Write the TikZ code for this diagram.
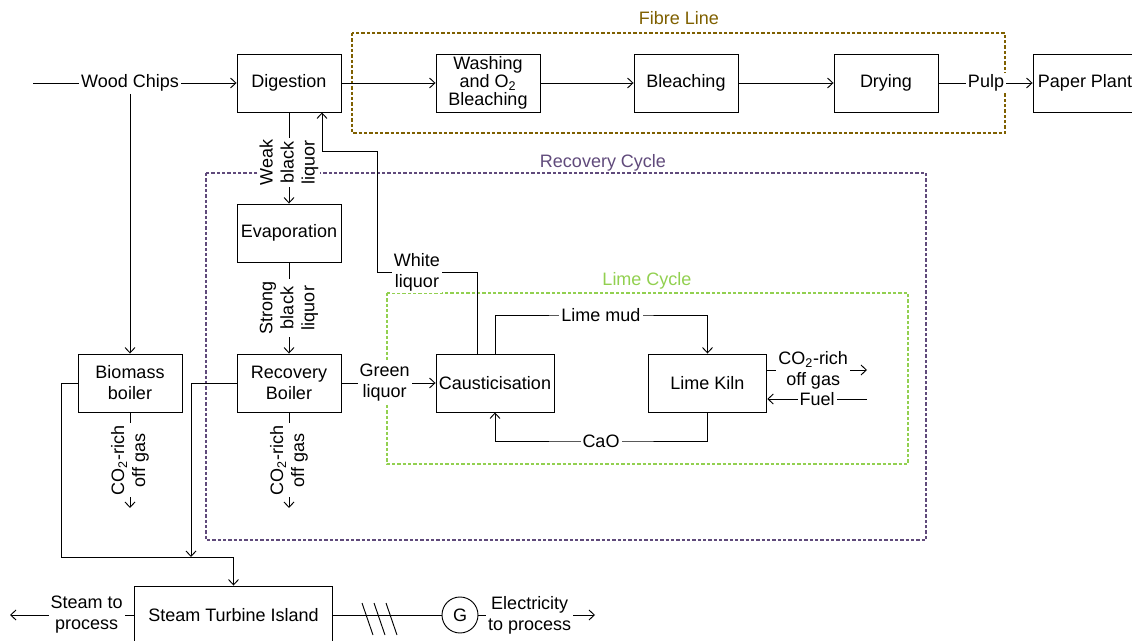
\documentclass[tikz,border=0pt]{standalone}
\usepackage{fontspec}
\setmainfont{Liberation Sans}
\usetikzlibrary{arrows.meta}
\definecolor{fibre}{HTML}{7F6000}
\definecolor{recov}{HTML}{604A7B}
\definecolor{lime}{HTML}{92D050}

\begin{document}
\begin{tikzpicture}[x=0.75pt, y=-0.75pt, line width=0.7pt,
  unit/.style={draw, fill=white, minimum width=78pt, minimum height=43.5pt,
    inner sep=1pt, align=center},
  lbl/.style={fill=white, inner sep=1.5pt, align=center},
  vlbl/.style={lbl, rotate=90},
  arrow/.style={-{Straight Barb[length=4pt,width=7.5pt]}},
  zone/.style={line width=1.2pt, dash pattern=on 2.4pt off 1.6pt},
  every node/.style={font=\fontsize{13.5}{15.75}\selectfont}
]
\useasboundingbox (0,0) rectangle (1132,641);

\draw[zone, fibre] (352,33) rectangle (1005,133);
\node[text=fibre] (fl) at (679,18) {Fibre Line};
\draw[zone, recov] (206,173) rectangle (926,540);
\node[text=recov] (rc) at (603,163) {Recovery Cycle};
\draw[zone, lime] (387,293) rectangle (908,464);
\node[text=lime] (lc) at (647,281) {Lime Cycle};

\node[unit] (dig) at (289,83) {Digestion};
\node[unit, font=\fontsize{13.5}{13.5}\selectfont] (wash) at (488,83)
  {Washing\\and O\textsubscript{2}\\Bleaching};
\node[unit] (bleach) at (686,83) {Bleaching};
\node[unit] (dry) at (886,83) {Drying};
\node[unit] (paper) at (1085,83) {Paper Plant};
\node[unit] (evap) at (289,233) {Evaporation};
\node[unit] (rec) at (289,383) {Recovery\\Boiler};
\node[unit] (bio) at (130,383) {Biomass\\boiler};
\node[unit, minimum width=88.5pt] (caus) at (495,383) {Causticisation};
\node[unit, minimum width=89pt] (kiln) at (707.5,383) {Lime Kiln};
\node[unit, minimum width=149pt] (sti) at (233.5,615) {Steam Turbine Island};
\node[draw, circle, minimum size=27pt, inner sep=0pt] (gen) at (460,615) {G};

\coordinate (src) at (33,83);
\node[lbl] (wc) at (130,83) {Wood Chips};
\node[lbl] (pulp) at (986,83) {Pulp};
\draw (src) -- (wc);
\draw[arrow] (wc) -- (dig);
\draw[arrow] (wc) -- (bio);
\draw[arrow] (dig) -- (wash);
\draw[arrow] (wash) -- (bleach);
\draw[arrow] (bleach) -- (dry);
\draw (dry) -- (pulp);
\draw[arrow] (pulp) -- (paper);

\draw[arrow] (dig) -- node[vlbl, pos=0.55] {Weak\\black\\liquor} (evap);
\draw[arrow] (evap) -- node[vlbl] {Strong\\black\\liquor} (rec);
\draw[arrow] (rec) -- node[lbl, pos=0.46] {Green\\liquor} (caus);

\coordinate (bout) at (130,508);
\coordinate (rout) at (289,508);
\draw[arrow] (bio) -- node[vlbl] {CO\textsubscript{2}-rich\\off gas} (bout);
\draw[arrow] (rec) -- node[vlbl] {CO\textsubscript{2}-rich\\off gas} (rout);

\coordinate (w1) at (377,272);
\coordinate (w2) at (377,151);
\draw[arrow] ([xshift=-13.5pt]caus.north) |- node[lbl, pos=0.8] {White\\liquor} (w1)
  -- (w2) -| ([xshift=24.75pt]dig.south);

\coordinate (lm) at (601,315);
\coordinate (ca) at (601,441);
\draw[arrow] (caus.north) |- (lm) node[lbl] {Lime mud} -| (kiln.north);
\draw[arrow] (kiln.south) |- (ca) node[lbl] {CaO} -| (caus.south);

\coordinate (gas) at (867,370);
\coordinate (fuel) at (867,399);
\draw[arrow] ([yshift=9.75pt]kiln.east) -- node[lbl, pos=0.46]
  {CO\textsubscript{2}-rich\\off gas} (gas);
\draw[arrow] (fuel) -- node[lbl] {Fuel} ([yshift=-12pt]kiln.east);

\coordinate (j1) at (61,557);
\coordinate (j2) at (191,557);
\draw[arrow] (bio) -| (j1) -| (sti);
\draw[arrow] (rec) -| (j2);

\coordinate (sout) at (10,615);
\coordinate (eout) at (595,615);
\draw[arrow] (sti) -- node[lbl, pos=0.38] {Steam to\\process} (sout);
\draw (sti) -- (gen);
\foreach \sx in {362,374,386}
  \draw (\sx,603) -- ++(11,32);
\draw[arrow] (gen) -- node[lbl, pos=0.44] {Electricity\\to process} (eout);
\end{tikzpicture}
\end{document}
